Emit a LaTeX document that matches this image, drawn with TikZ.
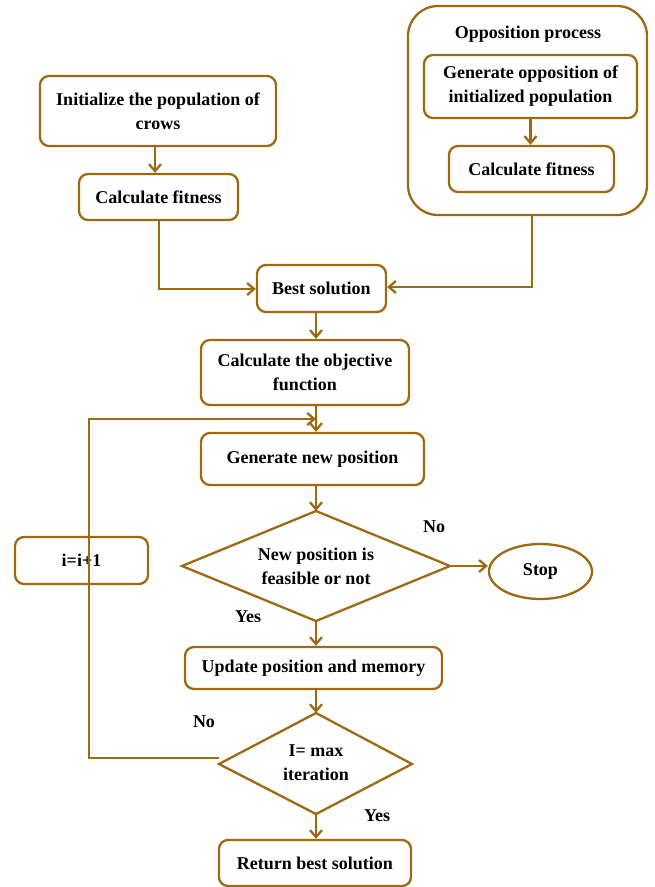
\documentclass[tikz,border=0pt]{standalone}
\usepackage{fontspec}
\setmainfont{Liberation Serif}
\usetikzlibrary{arrows.meta,shapes.geometric}
\definecolor{fc}{RGB}{156,106,18}
\begin{document}
\begin{tikzpicture}[x=1pt,y=-1pt,
  every node/.style={font=\fontsize{18}{24}\selectfont\bfseries, text=black},
  box/.style={draw=fc, line width=2.3pt, rounded corners=9pt, inner sep=0pt, align=center},
  dtext/.style={inner sep=0pt, align=center},
  conn/.style={draw=fc, line width=2.3pt, -{Straight Barb[length=7pt,width=12pt]}},
  plain/.style={draw=fc, line width=2.3pt, line join=miter}]
\useasboundingbox (0,0) rectangle (655,887);

% left top branch
\node[box, minimum width=236pt, minimum height=70pt] (init) at (158,111) {Initialize the population of\\crows};
\node[box, minimum width=159pt, minimum height=46pt] (fit1) at (158.5,197) {Calculate fitness};

% opposition process
\node[box, rounded corners=30pt, minimum width=239pt, minimum height=209pt] (opp) at (527.5,110.5) {};
\node (opptitle) at (528,34) {Opposition process};
\node[box, minimum width=213pt, minimum height=63pt] (gen) at (530.5,86.5) {Generate opposition of\\initialized population};
\node[box, minimum width=165pt, minimum height=46pt] (fit2) at (531.5,169) {Calculate fitness};

% main column
\node[box, minimum width=129pt, minimum height=47pt] (best) at (321.5,288.5) {Best solution};
\node[box, minimum width=208pt, minimum height=65pt] (obj) at (305,372.5) {Calculate the objective\\function};
\node[box, minimum width=223pt, minimum height=52pt] (newpos) at (312.5,459) {Generate new position};

% decision 1
\coordinate (d1n) at (316,511);
\coordinate (d1e) at (450,566);
\coordinate (d1s) at (316,621);
\coordinate (d1w) at (182,566);
\draw[plain] (d1n) -- (d1e) -- (d1s) -- (d1w) -- cycle;
\node[dtext] (d1) at (316,566) {New position is\\feasible or not};

\node[draw=fc, line width=2.3pt, ellipse, minimum width=103pt, minimum height=55pt, inner sep=0pt] (stop) at (540.5,571.5) {Stop};
\node[box, minimum width=133pt, minimum height=47pt] (inc) at (81.5,560.5) {i=i+1};
\node[box, minimum width=257pt, minimum height=42pt] (upd) at (313.5,668) {Update position and memory};

% decision 2
\coordinate (d2n) at (316,713);
\coordinate (d2e) at (412,764);
\coordinate (d2s) at (316,814);
\coordinate (d2w) at (219,764);
\draw[plain] (d2n) -- (d2e) -- (d2s) -- (d2w) -- cycle;
\node[dtext] (d2) at (316,763) {I= max\\iteration};

\node[box, minimum width=192pt, minimum height=46pt] (ret) at (315,863) {Return best solution};

% labels
\node (no1) at (434,527) {No};
\node (yes1) at (248,617) {Yes};
\node (no2) at (204,722) {No};
\node (yes2) at (377,816) {Yes};

% connectors
\coordinate (a1) at (155,0);
\draw[conn] (init.south -| a1) -- (fit1.north -| a1);
\coordinate (c1) at (159,289);
\draw[conn] (fit1.south -| c1) -- (c1) -- (best.west |- c1);
\draw[conn] (gen.south) -- (gen.south |- fit2.north);
\coordinate (c2) at (532,287);
\draw[conn] (opp.south -| c2) -- (c2) -- (best.east |- c2);
\coordinate (a3) at (316,0);
\draw[conn] (best.south -| a3) -- (obj.north -| a3);
\coordinate (join) at (316,419);
\draw[conn] (obj.south -| join) -- (join |- newpos.north);
\draw[conn] (newpos.south -| d1n) -- (d1n);
\draw[conn] (d1e) -- (stop.west |- d1e);
\draw[conn] (d1s) -- (d1s |- upd.north);
\draw[conn] (upd.south -| d2n) -- (d2n);
\draw[conn] (d2s) -- (d2s |- ret.north);
\coordinate (lp1) at (89,758);
\draw[conn] (d2w |- lp1) -- (lp1) -- (lp1 |- join) -- (join);
\end{tikzpicture}
\end{document}
